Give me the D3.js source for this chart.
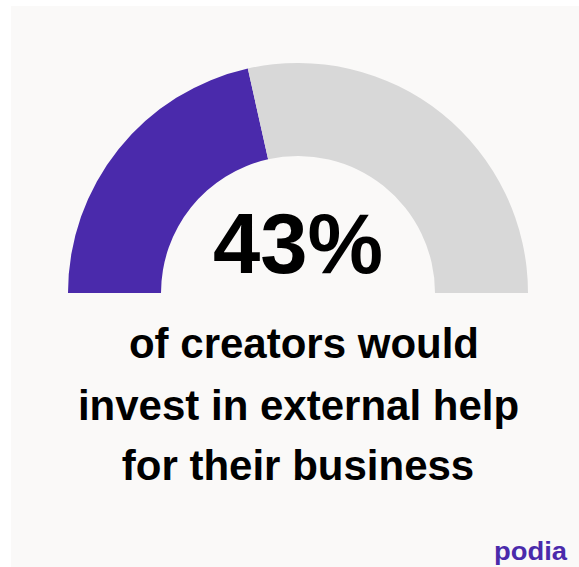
<!DOCTYPE html>
<html>
<head>
<meta charset="utf-8">
<script src="https://cdn.jsdelivr.net/npm/d3@7"></script>
<style>
  html, body { margin: 0; padding: 0; background: #ffffff; }
  svg { display: block; }
</style>
</head>
<body>
<div id="chart"></div>
<script>
// Share of creators who would invest in external help
const segments = ["Would invest", "Would not"];
const shares = [43, 57];
const headline = "43%";
const captionLines = ["of creators would", "invest in external help", "for their business"];
const brand = "podia";

const W = 579, H = 567;
const svg = d3.select("#chart").append("svg")
  .attr("width", W).attr("height", H);

// card background
svg.append("rect")
  .attr("x", 11).attr("y", 6)
  .attr("width", W - 11).attr("height", H - 6)
  .attr("fill", "#faf9f8");

const cx = 298, cy = 293;
const color = d3.scaleOrdinal().domain(segments).range(["#4a2aab", "#d8d8d8"]);

const pie = d3.pie()
  .sort(null)
  .value(d => d.value)
  .startAngle(-Math.PI / 2)
  .endAngle(Math.PI / 2);

const arc = d3.arc().innerRadius(137).outerRadius(230);

const data = segments.map((s, i) => ({ name: s, value: shares[i] }));

svg.append("g")
  .attr("transform", `translate(${cx},${cy})`)
  .selectAll("path")
  .data(pie(data))
  .join("path")
  .attr("d", arc)
  .attr("fill", d => color(d.data.name));

svg.append("text")
  .attr("x", cx).attr("y", 273)
  .attr("text-anchor", "middle")
  .attr("font-family", "'Liberation Sans', Arial, sans-serif")
  .attr("font-weight", "bold")
  .attr("font-size", 85)
  .attr("fill", "#000")
  .text(headline);

const lineX = [304, 298.5, 298];
const lineY = [358, 420, 480];
svg.append("g")
  .selectAll("text")
  .data(captionLines)
  .join("text")
  .attr("x", (d, i) => lineX[i])
  .attr("y", (d, i) => lineY[i])
  .attr("text-anchor", "middle")
  .attr("font-family", "'Liberation Sans', Arial, sans-serif")
  .attr("font-weight", "bold")
  .attr("font-size", 42)
  .attr("fill", "#000")
  .text(d => d);

// brand mark, bottom right
svg.append("text")
  .attr("x", 567).attr("y", 560)
  .attr("text-anchor", "end")
  .attr("font-family", "'Liberation Sans', Arial, sans-serif")
  .attr("font-weight", "bold")
  .attr("font-size", 25)
  .attr("textLength", 73)
  .attr("lengthAdjust", "spacingAndGlyphs")
  .attr("fill", "#4a2aab")
  .text(brand);
</script>
</body>
</html>
